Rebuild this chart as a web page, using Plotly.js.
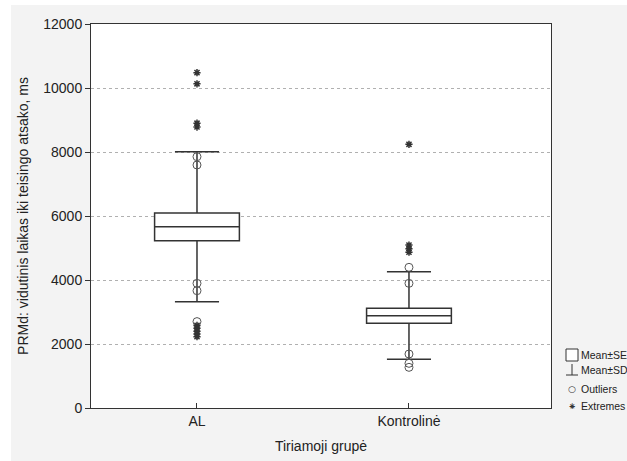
<!DOCTYPE html>
<html>
<head>
<meta charset="utf-8">
<script src="https://cdn.plot.ly/plotly-3.0.1.min.js"></script>
<style>
html,body{margin:0;padding:0;background:#ffffff;}
#bg{position:absolute;left:11px;top:5px;width:616px;height:456px;background:#f3f3f3;}
#chart{position:absolute;left:0;top:0;width:627px;height:461px;}
</style>
</head>
<body>
<div id="bg"></div>
<div id="chart"></div>
<script>
// ---- data ----
const categories = ["AL", "Kontrolinė"];
const meanValues = [5666, 2885];
const seLow = [5230, 2646];
const seHigh = [6095, 3115];
const sdLow = [3322, 1521];
const sdHigh = [8010, 4260];
const outliersAL = [7853, 7594, 3896, 3666, 2700];
const extremesAL = [10480, 10130, 8900, 8780, 2580, 2490, 2400, 2310, 2230];
const outliersK = [4396, 3896, 1687, 1396, 1271];
const extremesK = [8240, 5090, 4980, 4870];
const yTicks = [0, 2000, 4000, 6000, 8000, 10000, 12000];
const legendLabels = ["Mean±SE", "Mean±SD", "Outliers", "Extremes"];

const ink = '#333333';
const traces = [
  {
    type: 'box', x: categories, q1: seLow, median: meanValues, q3: seHigh,
    lowerfence: sdLow, upperfence: sdHigh, boxpoints: false,
    width: 0.4, whiskerwidth: 0.52, fillcolor: '#ffffff',
    line: {color: ink, width: 1.5}, hoverinfo: 'none', showlegend: false
  },
  {
    type: 'scatter', mode: 'markers',
    x: outliersAL.map(() => categories[0]).concat(outliersK.map(() => categories[1])),
    y: outliersAL.concat(outliersK),
    marker: {symbol: 'circle-open', size: 8, color: '#555', line: {width: 1}},
    showlegend: false, hoverinfo: 'none'
  },
  {
    type: 'scatter', mode: 'markers',
    x: extremesAL.map(() => categories[0]).concat(extremesK.map(() => categories[1])),
    y: extremesAL.concat(extremesK),
    marker: {symbol: 'asterisk-open', size: 6, color: '#333', line: {width: 1.5, color: '#333'}},
    showlegend: false, hoverinfo: 'none'
  }
];

// legend built in paper coords (plot area 460 x 384 px)
const W = 460, H = 384;
const px = v => (v - 91) / W;
const py = v => (408 - v) / H;
const shapes = [
  {type: 'rect', xref: 'paper', yref: 'paper', x0: px(566), x1: px(578), y0: py(361), y1: py(349), line: {color: ink, width: 1}, fillcolor: '#fff'},
  {type: 'line', xref: 'paper', yref: 'paper', x0: px(572), x1: px(572), y0: py(375), y1: py(364), line: {color: ink, width: 1}},
  {type: 'line', xref: 'paper', yref: 'paper', x0: px(566), x1: px(578), y0: py(375), y1: py(375), line: {color: ink, width: 1}}
];
const legendY = [355, 370, 389, 406];
const annotations = legendLabels.map((t, i) => ({
  xref: 'paper', yref: 'paper', x: px(579), y: py(legendY[i]), xanchor: 'left', yanchor: 'middle',
  text: t, showarrow: false, font: {family: 'Liberation Sans, Arial, sans-serif', size: 10.5, color: '#222'}
}));
annotations.push({xref: 'paper', yref: 'paper', x: px(572), y: py(389), xanchor: 'center', yanchor: 'middle',
  text: '○', showarrow: false, font: {family: 'DejaVu Sans', size: 9, color: '#333'}});
annotations.push({xref: 'paper', yref: 'paper', x: px(572), y: py(406), xanchor: 'center', yanchor: 'middle',
  text: '⁕', showarrow: false, font: {family: 'DejaVu Sans', size: 10, color: '#333'}});

const layout = {
  width: 627, height: 461,
  margin: {l: 91, r: 76, t: 24, b: 53},
  paper_bgcolor: 'rgba(0,0,0,0)', plot_bgcolor: '#ffffff',
  font: {family: 'Liberation Sans, Arial, sans-serif', size: 14, color: '#222'},
  showlegend: false,
  xaxis: {
    type: 'category', range: [-0.5, 1.67],
    ticks: 'inside', ticklen: 5, tickcolor: ink,
    showline: true, mirror: true, linecolor: ink, linewidth: 1,
    showgrid: false, zeroline: false,
    title: {text: 'Tiriamoji grupė', font: {size: 14}, standoff: 13}
  },
  yaxis: {
    range: [0, 12000], tickvals: yTicks, ticktext: yTicks.map(String),
    ticks: 'outside', ticklen: 5, tickcolor: ink,
    showline: true, mirror: true, linecolor: ink, linewidth: 1,
    showgrid: true, gridcolor: '#b0b0b0', griddash: '3px,3px', gridwidth: 1,
    zeroline: false,
    title: {text: 'PRMd: vidutinis laikas iki teisingo atsako, ms', font: {size: 14}, standoff: 11}
  },
  shapes: shapes, annotations: annotations
};

Plotly.newPlot('chart', traces, layout, {displayModeBar: false, staticPlot: true});
</script>
</body>
</html>
